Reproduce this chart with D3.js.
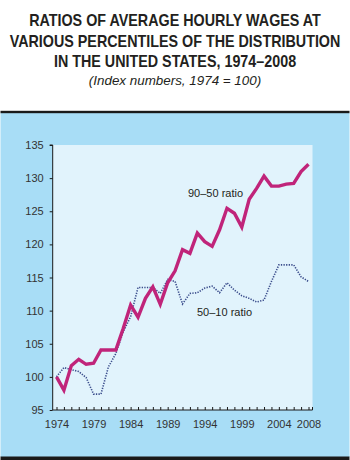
<!DOCTYPE html>
<html><head><meta charset="utf-8">
<script src="https://cdn.jsdelivr.net/npm/d3@7"></script>
<style>body{margin:0;background:#fff}svg{display:block}</style>
</head><body>
<script>
const years = d3.range(1974, 2009);
const ratio9050 = [100,98.0,101.7,102.65,101.9,102.05,104.05,104.05,104.05,107.3,110.85,109.0,111.85,113.6,110.95,114.2,116.0,119.2,118.65,121.7,120.4,119.7,122.2,125.45,124.7,122.6,126.8,128.45,130.3,128.8,128.8,129.1,129.2,131.0,132.1];
const ratio5010 = [100,101.4,101.1,100.8,99.9,97.4,97.4,101.5,103.5,106.8,109.1,113.5,113.5,113.5,112.6,114.7,114.4,111.0,112.6,112.7,113.4,113.7,112.7,114.2,113.1,112.25,111.85,111.3,111.6,114.4,116.9,116.9,116.9,115.1,114.4];
const yTicks = [95,100,105,110,115,120,125,130,135];
const xLabelYears = [1974,1979,1984,1989,1994,1999,2004,2008];
const titleLines = ["RATIOS OF AVERAGE HOURLY WAGES AT","VARIOUS PERCENTILES OF THE DISTRIBUTION","IN THE UNITED STATES, 1974\u20132008"];
const subtitle = "(Index numbers, 1974 = 100)";
const seriesLabels = ["90\u201350 ratio","50\u201310 ratio"];

const W=350,H=460;
const svg=d3.select("body").append("svg").attr("width",W).attr("height",H);
const font="Liberation Sans, Arial, sans-serif";

// title: fit natural width to the reference line widths, stretch vertically to reference cap height
const tl=[{b:26,w:292},{b:47,w:340},{b:67,w:251}];
const tNodes=titleLines.map((t,i)=>svg.append("g").attr("transform",`translate(175,${tl[i].b})`)
    .append("text").attr("text-anchor","middle")
    .attr("font-family",font).attr("font-weight","bold").attr("font-size",17)
    .attr("fill","#231f20").text(t));
let fs=17;
tNodes.forEach((n,i)=>{const w=n.node().getComputedTextLength(); fs=Math.min(fs,17*tl[i].w/w);});
const k=Math.min(1.2,16.7/fs);
tNodes.forEach(n=>{n.attr("font-size",fs).attr("transform",`scale(1,${k})`);});

svg.append("text").attr("x",175).attr("y",85).attr("text-anchor","middle")
  .attr("font-family",font).attr("font-style","italic").attr("font-size",13.4)
  .attr("fill","#231f20").text(subtitle);

// panel
svg.append("rect").attr("x",0.5).attr("y",113).attr("width",349).attr("height",344).attr("fill","#a8ddf6");
svg.append("rect").attr("x",0.5).attr("y",110.8).attr("width",349).attr("height",2.4).attr("fill","#1a1a1a");
svg.append("rect").attr("x",0.5).attr("y",456.5).attr("width",349).attr("height",3.5).attr("fill","#1a1a1a");

const x=d3.scaleLinear().domain([1974,2008]).range([56.5,308.5]);
const y=d3.scaleLinear().domain([95,135]).range([410,145]);
const plotL=52.7, plotR=312.5;
svg.append("rect").attr("x",plotL).attr("y",y(135)).attr("width",plotR-plotL).attr("height",y(95)-y(135)).attr("fill","#e1f3fc");

// y axis
const ya=svg.append("g").attr("transform",`translate(${plotL},0)`)
  .call(d3.axisLeft(y).tickValues(yTicks).tickSize(3).tickPadding(6));
ya.select(".domain").attr("stroke","#1a1a1a").attr("d",`M-3,${y(135)}H0V${y(95)}`);
ya.selectAll(".tick line").attr("stroke","#1a1a1a");
ya.selectAll(".tick text").attr("font-family",font).attr("font-size",11).attr("fill","#333");

// x axis
const xa=svg.append("g").attr("transform",`translate(0,${y(95)})`)
  .call(d3.axisBottom(x).tickValues(years).tickSize(-3).tickFormat(d=>xLabelYears.includes(d)?String(d):""));
xa.select(".domain").attr("stroke","#1a1a1a").attr("d",`M${plotL},0H${plotR}`);
xa.selectAll(".tick line").attr("stroke","#1a1a1a");
xa.selectAll(".tick text").attr("font-family",font).attr("font-size",11).attr("fill","#333").attr("dy","1.4em");
svg.append("line").attr("x1",plotR).attr("x2",plotR).attr("y1",y(95)).attr("y2",y(95)-3).attr("stroke","#1a1a1a");

const line=d3.line().x((d,i)=>x(years[i])).y(d=>y(d));
svg.append("path").datum(ratio5010).attr("d",line).attr("fill","none")
  .attr("stroke","#3b4d8c").attr("stroke-width",1.6).attr("stroke-dasharray","1.3,1.3");
svg.append("path").datum(ratio9050).attr("d",line).attr("fill","none")
  .attr("stroke","#c0247a").attr("stroke-width",3.4).attr("stroke-linejoin","miter");

svg.append("text").attr("x",188).attr("y",197).attr("font-family",font).attr("font-size",11)
  .attr("fill","#231f20").text(seriesLabels[0]);
svg.append("text").attr("x",197).attr("y",316).attr("font-family",font).attr("font-size",11)
  .attr("fill","#231f20").text(seriesLabels[1]);
</script>
</body></html>
